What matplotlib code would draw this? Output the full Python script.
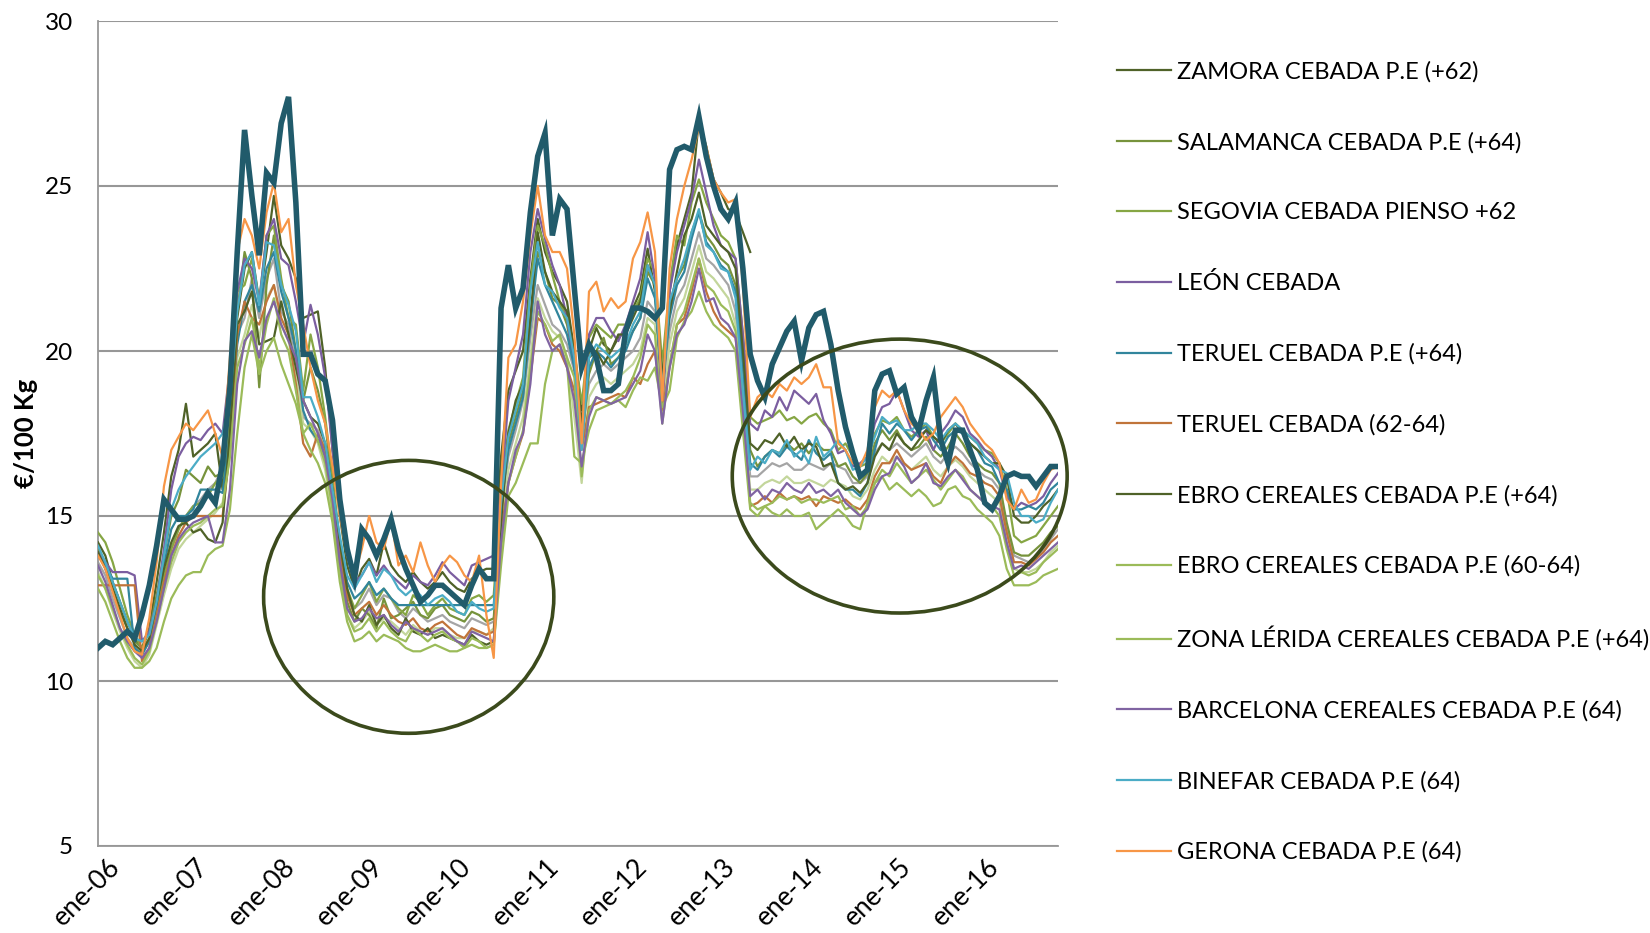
import numpy as np
import matplotlib
matplotlib.use("Agg")
import matplotlib.pyplot as plt
from matplotlib.patches import Ellipse
from matplotlib.transforms import ScaledTranslation

plt.rcParams['font.family'] = ['Lato', 'DejaVu Sans']

nan = np.nan
# ---------------- DATA (monthly, ene-06 .. dic-16) ----------------
tick_labels = ['ene-06', 'ene-07', 'ene-08', 'ene-09', 'ene-10', 'ene-11',
               'ene-12', 'ene-13', 'ene-14', 'ene-15', 'ene-16']

zamora = [14.2, 13.8, 13.0, 12.4, 11.8, 11.3, 11.0, 11.6, 13.0, 14.5, 16.2, 17.0,
          18.4, 16.8, 17.0, 17.2, 17.5, 15.8, 18.5, 21.0, 22.5, 23.0, 21.5, 23.0,
          24.7, 23.2, 22.8, 22.2, 21.0, 21.1, 21.2, 19.5, 17.0, 15.0, 13.5, 12.8,
          13.4, 13.7, 13.2, 14.2, 13.5, 13.2, 13.0, 13.3, 13.0, 12.8, 13.0, 13.3,
          13.0, 12.8, 12.7, 13.1, 13.3, 13.4, 13.4, 16.8, 18.8, 19.4, 20.0, 22.2,
          24.0, 23.0, 22.4, 22.0, 21.5, 20.0, 18.2, 20.0, 20.7, 20.2, 20.0, 20.4,
          20.6, 21.3, 21.8, 23.1, 21.8, 18.6, 21.8, 23.2, 24.0, 24.8, 27.0, 26.2,
          25.2, 24.8, 24.3, 24.2, 23.6, 23.0, nan, nan, nan, nan, nan, nan,
          nan, nan, nan, nan, nan, nan, nan, nan, nan, nan, nan, nan,
          nan, nan, nan, nan, nan, nan, nan, nan, nan, nan, nan, nan,
          nan, nan, nan, nan, nan, nan, nan, nan, nan, nan, nan, nan]

salamanca = [14.0, 13.5, 12.8, 12.1, 11.6, 11.2, 11.0, 11.5, 12.6, 13.8, 15.0, 15.5,
             16.4, 16.2, 16.0, 16.5, 16.2, 16.3, 18.6, 21.2, 23.0, 22.2, 18.9, 22.0,
             23.5, 22.0, 21.5, 20.0, 18.5, 19.5, 18.8, 17.8, 16.0, 14.0, 12.4, 11.8,
             12.2, 12.0, 11.6, 12.5, 11.9, 12.0, 12.2, 12.4, 12.0, 11.9, 12.2, 12.3,
             12.0, 11.9, 11.8, 12.1, 12.0, 11.8, 11.9, 15.2, 17.2, 18.0, 18.8, 21.0,
             23.0, 22.4, 21.6, 21.4, 20.8, 19.6, 17.2, 19.3, 20.0, 20.4, 19.6, 19.8,
             20.2, 20.6, 21.0, 22.4, 22.0, 18.8, 21.2, 22.2, 22.6, 23.6, 24.2, 23.5,
             23.2, 22.8, 22.6, 22.0, 19.5, 17.0, 16.5, 16.8, 17.0, 16.9, 17.2, 17.0,
             17.2, 16.9, 17.2, 17.0, 17.0, 16.5, 16.6, 16.2, 16.0, 16.3, 17.2, 17.6,
             17.3, 17.6, 17.2, 17.0, 17.1, 17.4, 17.0, 16.8, 17.1, 17.5, 17.2, 16.8,
             16.6, 16.4, 16.3, 16.0, 14.8, 13.9, 13.8, 13.8, 14.0, 14.2, 14.5, 14.7]

segovia = [14.5, 14.2, 13.6, 12.8, 12.0, 11.4, 11.0, 11.2, 12.2, 13.2, 14.0, 14.6,
           15.0, 15.3, 15.4, 15.6, 16.0, 16.2, 18.0, 21.8, 22.0, 22.8, 21.5, 23.5,
           23.8, 22.2, 21.0, 20.8, 18.8, 20.5, 19.5, 18.0, 16.2, 14.2, 12.8, 12.2,
           12.6, 13.0, 12.4, 12.8, 12.5, 12.2, 12.0, 12.6, 12.4, 12.0, 12.3, 12.5,
           12.2, 12.1, 12.0, 12.5, 12.6, 12.4, 12.6, 15.8, 17.6, 18.4, 19.2, 22.0,
           23.8, 23.2, 22.3, 21.5, 21.0, 20.0, 18.4, 20.4, 20.8, 20.6, 20.4, 20.8,
           20.8, 21.2, 21.6, 22.8, 22.4, 19.6, 22.0, 23.5, 23.2, 24.5, 25.2, 24.5,
           24.0, 23.5, 23.3, 22.8, 20.5, 18.0, 17.8, 17.9, 18.0, 18.2, 17.9, 18.0,
           17.8, 18.0, 18.1, 17.8, 17.6, 17.0, 17.2, 16.8, 16.5, 16.6, 17.5, 17.9,
           17.8, 18.0, 17.6, 17.4, 17.6, 17.8, 17.4, 17.2, 17.5, 17.8, 17.6, 17.4,
           17.2, 17.0, 16.9, 16.6, 15.8, 14.4, 14.2, 14.3, 14.4, 14.7, 15.0, 15.3]

leon = [13.9, 13.6, 13.3, 13.3, 13.3, 13.2, 11.2, 11.5, 12.4, 14.0, 15.8, 16.8,
        17.2, 17.4, 17.3, 17.6, 17.8, 17.5, 19.5, 21.8, 22.8, 22.5, 21.5, 23.5,
        24.0, 22.8, 22.6, 21.5, 20.2, 21.4, 20.5, 19.2, 17.0, 15.2, 13.8, 13.0,
        13.2, 13.6, 13.2, 13.5, 13.2, 13.0, 12.8, 13.2, 13.0, 12.9, 13.2, 13.6,
        13.3, 13.1, 12.9, 13.5, 13.6, 13.7, 13.8, 15.8, 18.5, 19.5, 20.5, 23.0,
        24.3, 23.4, 22.6, 22.0, 21.0, 19.5, 17.6, 20.5, 21.0, 21.0, 20.6, 20.3,
        20.8, 21.5, 22.2, 23.6, 22.2, 18.3, 21.8, 23.0, 23.8, 24.6, 25.8, 24.8,
        23.8, 23.2, 23.0, 22.8, 20.5, 17.8, 17.6, 18.2, 18.0, 18.6, 18.2, 18.8,
        18.6, 18.4, 18.7, 17.9, 17.5, 16.9, 17.0, 16.5, 16.6, 16.8, 17.8, 18.3,
        18.4, 18.8, 18.2, 17.6, 17.4, 17.6, 17.0, 17.5, 17.8, 18.2, 18.0, 17.5,
        17.3, 17.0, 16.8, 16.4, 15.6, 15.2, 15.4, 15.3, 15.4, 15.6, 16.0, 16.3]

teruel_pe = [13.8, 13.5, 13.1, 13.1, 13.1, 11.0, 10.8, 11.2, 12.3, 13.5, 14.6, 15.0,
             15.0, 15.2, 15.8, 15.8, 15.8, 15.7, 17.5, 20.2, 21.5, 22.0, 21.2, 22.5,
             23.0, 21.8, 21.0, 20.0, 18.2, 17.6, 17.3, 16.8, 15.6, 14.2, 13.0, 12.5,
             12.7, 13.0, 12.6, 12.8, 12.5, 12.3, 12.3, 12.3, 12.3, 12.3, 12.3, 12.3,
             12.3, 12.3, 12.3, 12.3, 12.3, 12.3, 12.3, 15.3, 17.0, 17.8, 18.6, 20.8,
             22.8, 22.0, 21.5, 21.0, 20.5, 19.5, 17.6, 19.5, 20.0, 19.8, 19.5, 19.8,
             20.0, 20.6, 21.0, 22.2, 21.6, 19.0, 21.0, 22.0, 22.4, 23.4, 24.2, 23.3,
             23.0, 22.6, 22.4, 21.8, 19.6, 16.6, 16.4, 16.8, 17.0, 16.8, 17.1, 16.9,
             16.7, 17.3, 16.9, 16.7, 16.9, 16.0, 15.8, 15.8, 15.6, 16.0, 17.0, 17.8,
             17.5, 17.8, 17.6, 17.3, 17.6, 17.7, 17.3, 17.0, 17.4, 17.6, 17.5, 17.2,
             17.0, 16.6, 16.5, 16.0, 15.8, 15.2, 15.2, 15.3, 15.2, 15.4, 15.8, 16.0]

teruel_6264 = [12.9, 12.9, 12.9, 12.9, 12.9, 12.9, 10.6, 11.0, 12.0, 13.0, 13.8, 14.4,
               14.8, 15.0, 15.0, 15.0, 15.0, 15.0, 17.0, 20.5, 21.5, 21.0, 20.8, 21.5,
               22.0, 21.0, 20.5, 19.0, 17.2, 16.8, 17.5, 17.0, 15.8, 14.0, 12.6, 12.0,
               12.2, 12.4, 12.0, 12.3, 12.0, 11.8, 11.7, 11.9, 11.6, 11.5, 11.7, 11.8,
               11.6, 11.4, 11.3, 11.6, 11.5, 11.4, 11.5, 14.5, 16.0, 16.8, 17.5, 19.2,
               21.0, 20.8, 20.2, 20.0, 19.5, 18.8, 17.0, 18.3, 18.4, 18.5, 18.6, 18.7,
               18.6, 19.2, 19.0, 19.6, 20.0, 18.2, 19.5, 20.8, 21.0, 21.8, 22.8, 21.8,
               21.2, 20.8, 20.6, 20.4, 18.5, 15.3, 15.4, 15.6, 15.4, 15.7, 15.5, 15.6,
               15.5, 15.6, 15.3, 15.6, 15.5, 15.4, 15.5, 15.3, 15.2, 15.5, 16.2, 16.6,
               16.6, 17.0, 16.6, 16.4, 16.5, 16.6, 16.2, 16.0, 16.5, 16.8, 16.6, 16.3,
               16.2, 16.0, 15.9, 15.6, 14.5, 13.6, 13.6, 13.5, 13.7, 13.9, 14.2, 14.4]

ebro_64 = [13.9, 13.4, 12.8, 12.2, 11.6, 11.1, 10.9, 11.3, 12.4, 13.4, 14.2, 14.7,
           14.8, 14.5, 14.6, 14.3, 14.2, 14.8, 17.5, 20.8, 21.2, 21.8, 20.2, 20.3,
           20.4, 21.5, 20.5, 19.5, 18.5, 18.0, 17.8, 17.2, 15.8, 14.2, 12.8, 12.0,
           11.8, 12.3, 11.7, 12.0, 11.6, 11.4, 11.9, 11.5, 11.4, 11.6, 11.3, 11.4,
           11.3, 11.2, 11.1, 11.4, 11.2, 11.1, 11.2, 14.8, 17.5, 18.5, 19.0, 21.0,
           23.6, 22.4, 21.8, 21.5, 21.2, 20.0, 17.8, 19.8, 20.0, 19.6, 20.0, 20.5,
           20.5, 21.0, 21.5, 22.6, 22.0, 19.2, 21.2, 22.4, 23.5, 24.0, 24.8, 23.8,
           23.5, 23.2, 23.0, 22.5, 20.0, 17.2, 17.0, 17.3, 17.2, 17.5, 17.1, 17.4,
           17.0, 17.2, 17.1, 16.5, 16.6, 16.0, 15.8, 15.9, 15.7, 16.0, 16.8, 17.2,
           17.0, 17.5, 17.2, 17.0, 17.3, 17.6, 17.4, 17.2, 17.6, 17.8, 17.5, 17.2,
           17.0, 16.8, 16.6, 16.6, 16.2, 15.0, 14.8, 14.8, 15.0, 15.3, 15.5, 15.8]

ebro_6064 = [13.2, 12.8, 12.2, 11.6, 11.1, 10.7, 10.5, 10.9, 11.8, 12.8, 13.6, 14.2,
             14.5, 14.7, 14.8, 15.0, 15.2, 15.3, 16.8, 19.5, 20.2, 21.0, 19.5, 20.8,
             21.6, 20.5, 20.0, 18.8, 17.5, 17.8, 17.3, 16.6, 15.2, 13.4, 12.0, 11.5,
             11.6, 11.9, 11.5, 11.8, 11.5, 11.3, 11.2, 11.6, 11.4, 11.2, 11.4, 11.5,
             11.3, 11.2, 11.0, 11.3, 11.2, 11.0, 11.1, 14.0, 16.0, 16.8, 17.6, 19.5,
             21.2, 20.8, 20.3, 20.5, 19.8, 19.2, 16.2, 18.2, 18.6, 18.5, 18.4, 18.6,
             18.8, 19.2, 19.8, 20.8, 20.5, 17.8, 19.6, 20.8, 21.2, 22.0, 22.8, 22.0,
             21.8, 21.4, 21.2, 20.6, 18.2, 15.4, 15.2, 15.3, 15.4, 15.6, 15.5, 15.6,
             15.4, 15.5, 15.5, 15.4, 15.5, 15.6, 15.2, 15.3, 15.0, 15.3, 16.0, 16.4,
             16.2, 16.6, 16.3, 16.0, 16.2, 16.4, 16.1, 15.8, 16.1, 16.4, 16.2, 15.8,
             15.6, 15.4, 15.3, 15.0, 14.0, 13.2, 13.3, 13.2, 13.3, 13.6, 13.8, 14.0]

lerida = [12.8, 12.4, 11.8, 11.2, 10.7, 10.4, 10.4, 10.6, 11.0, 11.8, 12.5, 12.9,
          13.2, 13.3, 13.3, 13.8, 14.0, 14.1, 15.2, 17.5, 19.5, 20.5, 19.3, 20.0,
          20.4, 19.6, 19.0, 18.4, 17.5, 17.0, 16.6, 16.0, 14.8, 13.0, 11.8, 11.2,
          11.3, 11.5, 11.2, 11.4, 11.3, 11.2, 11.0, 10.9, 10.9, 11.0, 11.1, 11.0,
          10.9, 10.9, 11.0, 11.1, 11.0, 11.0, 11.1, 13.5, 15.6, 16.0, 16.6, 17.2,
          17.2, 19.0, 20.0, 20.2, 19.6, 16.8, 16.6, 17.6, 18.2, 18.3, 18.4, 18.5,
          18.3, 18.8, 19.2, 19.1, 19.5, 18.3, 18.8, 20.4, 20.9, 21.2, 21.8, 21.2,
          20.8, 20.6, 20.4, 20.0, 17.6, 15.2, 15.0, 15.3, 15.1, 15.0, 15.2, 15.0,
          15.0, 15.1, 14.6, 14.8, 15.0, 15.2, 15.0, 14.7, 14.6, 15.4, 16.0, 16.2,
          15.8, 16.0, 15.8, 15.6, 15.8, 15.6, 15.3, 15.4, 15.8, 15.9, 15.6, 15.5,
          15.2, 15.0, 14.8, 14.4, 13.4, 12.9, 12.9, 12.9, 13.0, 13.2, 13.3, 13.4]

barcelona = [13.5, 13.0, 12.3, 11.6, 11.2, 10.9, 10.7, 11.0, 11.8, 12.8, 13.8, 14.3,
             14.6, 14.8, 14.9, 15.0, 14.2, 14.2, 15.8, 19.0, 20.3, 20.6, 19.8, 21.0,
             21.5, 20.8, 20.3, 19.8, 18.5, 18.0, 17.5, 16.8, 15.5, 13.6, 12.2, 11.8,
             11.9, 12.2, 11.9, 12.0, 11.7, 11.5, 11.8, 11.6, 11.5, 11.4, 11.5, 11.6,
             11.4, 11.2, 11.1, 11.5, 11.4, 11.3, 11.2, 14.2, 16.0, 17.0, 17.5, 19.0,
             21.5, 20.5, 20.0, 20.2, 19.5, 18.5, 16.5, 18.0, 18.6, 18.5, 18.4, 18.5,
             18.6, 19.0, 19.4, 20.5, 20.0, 17.8, 19.5, 20.5, 20.8, 21.5, 22.5, 21.5,
             21.6, 21.0, 20.8, 20.4, 18.2, 15.6, 15.8, 15.5, 15.8, 15.7, 16.0, 15.8,
             15.7, 16.0, 15.7, 15.8, 15.6, 15.8, 15.4, 15.2, 15.0, 15.2, 15.8, 16.2,
             16.3, 16.8, 16.5, 16.0, 16.2, 16.6, 16.0, 15.9, 16.2, 16.4, 16.1, 15.8,
             15.6, 15.4, 15.3, 15.2, 14.2, 13.4, 13.5, 13.4, 13.6, 13.8, 14.0, 14.2]

binefar = [14.1, 13.6, 13.0, 12.4, 11.8, 11.3, 11.2, 11.4, 12.4, 13.8, 15.2, 15.8,
           16.2, 16.5, 16.8, 17.0, 17.2, 17.5, 18.5, 21.2, 22.6, 23.0, 21.4, 23.3,
           23.2, 22.0, 21.4, 20.6, 18.6, 18.6, 18.0, 17.2, 15.8, 14.4, 13.2, 12.8,
           13.2, 13.6, 13.0, 13.4, 13.2, 12.8, 12.6, 12.8, 12.6, 12.3, 12.5, 12.6,
           12.4, 12.1, 12.0, 12.4, 12.2, 12.1, 12.2, 15.4, 17.4, 18.2, 19.0, 21.8,
           23.3, 22.0, 21.8, 21.3, 21.0, 19.8, 17.0, 19.8, 20.2, 20.0, 19.8, 20.0,
           20.2, 20.8, 21.2, 22.6, 22.0, 18.8, 21.5, 22.2, 22.8, 23.6, 24.3, 23.2,
           23.0, 22.5, 22.4, 21.6, 18.8, 16.4, 16.8, 16.6, 17.0, 16.9, 17.3, 16.8,
           17.0, 16.6, 17.4, 16.8, 17.0, 17.3, 17.0, 16.4, 16.5, 16.8, 17.4, 18.0,
           17.8, 17.9, 17.6, 17.6, 17.8, 17.8, 17.6, 17.3, 17.6, 17.8, 17.6, 17.4,
           17.2, 16.8, 16.6, 16.4, 16.3, 15.4, 15.0, 15.0, 14.8, 14.9, 15.4, 15.8]

gerona = [13.8, 13.4, 12.7, 12.0, 11.3, 10.9, 10.8, 11.9, 13.6, 15.9, 17.0, 17.4,
          17.8, 17.6, 17.9, 18.2, 17.5, 16.8, 19.8, 23.0, 24.0, 23.5, 22.5, 24.2,
          25.1, 23.6, 24.0, 22.0, 20.8, 19.5, 18.5, 17.8, 16.5, 15.0, 13.8, 13.2,
          14.0, 15.0, 14.2, 14.0, 14.9, 13.5, 13.8, 13.3, 14.2, 13.5, 13.0, 13.5,
          13.8, 13.6, 13.2, 13.0, 13.8, 12.0, 10.7, 16.0, 19.8, 20.2, 21.5, 23.5,
          25.0, 23.5, 23.0, 23.0, 22.5, 20.5, 17.2, 21.8, 22.1, 21.2, 21.6, 21.3,
          21.5, 22.8, 23.3, 24.2, 23.0, 18.5, 22.5, 24.0, 25.0, 25.8, 26.8, 26.2,
          25.2, 24.8, 24.5, 24.6, 22.0, 18.0, 18.6, 18.8, 18.6, 19.0, 18.8, 19.2,
          19.0, 19.2, 19.6, 18.9, 18.9, 17.2, 17.0, 16.6, 16.5, 17.0, 18.3, 18.8,
          18.6, 18.8, 18.2, 17.8, 17.6, 17.3, 17.5, 18.0, 18.3, 18.6, 18.3, 17.8,
          17.5, 17.2, 17.0, 16.6, 15.5, 15.2, 15.8, 15.4, 15.5, 16.0, 16.4, 16.5]

# other markets shown in the chart but not listed in the legend
extra_grey = [13.6, 13.2, 12.5, 11.9, 11.3, 11.0, 10.8, 11.2, 12.0, 13.0, 14.0, 14.6,
              15.0, 15.3, 15.5, 15.8, 16.0, 16.5, 17.5, 20.5, 21.0, 22.2, 21.0, 22.2,
              22.8, 21.2, 20.8, 19.6, 18.0, 17.8, 17.6, 17.0, 15.6, 14.0, 12.6, 12.2,
              12.4, 12.8, 12.3, 12.6, 12.5, 12.1, 11.9, 12.2, 12.0, 11.8, 11.9, 12.0,
              11.8, 11.7, 11.6, 11.9, 11.8, 11.7, 11.8, 15.0, 16.8, 17.6, 18.5, 20.4,
              22.0, 21.4, 20.8, 20.6, 20.2, 19.4, 17.4, 19.0, 19.4, 19.6, 19.4, 19.6,
              19.8, 20.0, 20.4, 21.5, 21.2, 18.6, 20.6, 21.6, 22.0, 22.8, 23.6, 22.8,
              22.6, 22.3, 22.0, 21.2, 18.6, 16.2, 16.2, 16.4, 16.6, 16.5, 16.6, 16.4,
              16.4, 16.6, 16.5, 16.4, 16.6, 16.5, 16.4, 16.0, 16.0, 16.2, 16.9, 17.2,
              17.0, 17.2, 17.0, 16.8, 17.0, 17.2, 16.8, 16.6, 16.9, 17.1, 16.9, 16.6,
              16.4, 16.2, 16.1, 15.8, 14.6, 13.8, 13.7, 13.6, 13.7, 14.0, 14.3, 14.6]

extra_pale = [13.3, 12.8, 12.1, 11.5, 11.0, 10.6, 10.4, 10.8, 11.7, 12.6, 13.4, 14.0,
              14.3, 14.5, 14.7, 14.9, 15.1, 15.4, 16.8, 19.8, 20.5, 21.4, 20.4, 21.6,
              22.0, 20.8, 20.3, 19.2, 17.8, 17.6, 17.2, 16.4, 15.0, 13.4, 12.0, 11.6,
              11.8, 12.1, 11.7, 11.9, 11.8, 11.6, 11.4, 11.7, 11.5, 11.4, 11.6, 11.6,
              11.4, 11.3, 11.3, 11.5, 11.5, 11.4, 11.6, 14.6, 16.4, 17.2, 18.0, 19.8,
              21.6, 21.0, 20.6, 20.4, 19.8, 18.0, 16.0, 18.6, 19.0, 19.2, 19.0, 19.2,
              19.4, 19.6, 20.0, 21.0, 20.8, 18.2, 20.2, 21.2, 21.6, 22.4, 23.2, 22.4,
              22.2, 21.9, 21.6, 20.8, 18.4, 15.8, 15.8, 16.0, 16.1, 16.0, 16.2, 16.0,
              16.0, 16.1, 16.0, 15.9, 16.1, 16.0, 15.9, 15.6, 15.5, 15.8, 16.4, 16.8,
              16.6, 16.8, 16.6, 16.4, 16.6, 16.8, 16.4, 16.2, 16.5, 16.7, 16.5, 16.2,
              16.0, 15.8, 15.6, 15.4, 14.2, 13.4, 13.3, 13.3, 13.4, 13.6, 13.9, 14.1]

# highlighted (thick) series
highlight = [11.0, 11.2, 11.1, 11.3, 11.5, 11.3, 12.0, 12.9, 14.1, 15.5, 15.2, 14.9,
             14.9, 15.0, 15.3, 15.7, 15.4, 16.6, 18.9, 23.0, 26.7, 24.7, 22.9, 25.4,
             25.1, 26.9, 27.7, 24.5, 19.9, 19.9, 19.3, 19.1, 17.9, 15.5, 14.0, 13.1,
             14.6, 14.3, 13.8, 14.3, 14.9, 14.0, 13.4, 12.9, 12.4, 12.6, 12.9, 12.9,
             12.7, 12.5, 12.3, 12.9, 13.4, 13.1, 13.1, 21.3, 22.6, 21.3, 21.9, 24.2,
             25.9, 26.6, 23.5, 24.6, 24.3, 21.9, 19.5, 20.2, 19.8, 18.8, 18.8, 19.0,
             20.6, 21.3, 21.3, 21.2, 21.0, 21.3, 25.5, 26.1, 26.2, 26.1, 27.1, 25.9,
             25.0, 24.3, 24.0, 24.5, 22.5, 19.9, 19.1, 18.6, 19.6, 20.1, 20.6, 20.9,
             19.7, 20.7, 21.1, 21.2, 20.2, 18.8, 17.7, 16.9, 16.2, 16.4, 18.8, 19.3,
             19.4, 18.7, 18.9, 18.0, 17.6, 18.5, 19.2, 17.3, 16.6, 17.6, 17.6, 17.0,
             16.4, 15.4, 15.2, 15.6, 16.2, 16.3, 16.2, 16.2, 15.9, 16.2, 16.5, 16.5]

legend_series = [
    ("ZAMORA CEBADA P.E (+62)", zamora, '#4F6228'),
    ("SALAMANCA CEBADA P.E (+64)", salamanca, '#77933C'),
    ("SEGOVIA CEBADA PIENSO +62", segovia, '#86A644'),
    ("LEÓN CEBADA", leon, '#7B5EA0'),
    ("TERUEL CEBADA P.E (+64)", teruel_pe, '#31859C'),
    ("TERUEL CEBADA (62-64)", teruel_6264, '#C0743A'),
    ("EBRO CEREALES CEBADA P.E (+64)", ebro_64, '#4F6228'),
    ("EBRO CEREALES CEBADA P.E (60-64)", ebro_6064, '#9BBB59'),
    ("ZONA LÉRIDA CEREALES CEBADA P.E (+64)", lerida, '#9BBB59'),
    ("BARCELONA CEREALES CEBADA P.E (64)", barcelona, '#8064A2'),
    ("BINEFAR CEBADA P.E (64)", binefar, '#4BACC6'),
    ("GERONA CEBADA P.E (64)", gerona, '#F79646'),
]

# ---------------- FIGURE ----------------
fig = plt.figure(figsize=(16.5, 9.33), dpi=100)
ax = fig.add_axes([98/1650, 1-846/933, 960/1650, 825/933])

x = np.arange(len(highlight))

ax.plot(x, extra_grey, color='#A5A5A5', lw=1.6, zorder=2)
ax.plot(x, extra_pale, color='#C3D69B', lw=1.6, zorder=2)

handles = []
for name, vals, col in legend_series:
    ln, = ax.plot(x, vals, color=col, lw=1.6, zorder=3, label=name)
    handles.append(ln)

ax.plot(x, highlight, color='#215B6B', lw=4.0, zorder=5, solid_joinstyle='miter')

# ellipses
for cx, cy, w, h in [(42.4, 12.55, 39.6, 8.27), (109.4, 16.21, 45.7, 8.3)]:
    e = Ellipse((cx, cy), w, h, fill=False, edgecolor='#3B4A1C', lw=2.6,
                zorder=6, clip_on=False)
    ax.add_patch(e)

ax.set_xlim(0, len(highlight) - 1)
ax.set_ylim(5, 30)
ax.set_yticks([5, 10, 15, 20, 25, 30])
ax.set_xticks(np.arange(0, 121, 12))
ax.set_xticklabels(tick_labels, rotation=45, ha='right', va='top',
                   rotation_mode='anchor')
ax.tick_params(axis='y', length=0, labelsize=17.5, pad=18, colors='#000000')
ax.tick_params(axis='x', length=0, labelsize=19, pad=6, colors='#000000')
shift = ScaledTranslation(9/100, 0, fig.dpi_scale_trans)
for lab in ax.get_xticklabels():
    lab.set_transform(lab.get_transform() + shift)
ax.grid(axis='y', color='#979797', lw=1.5)
ax.set_axisbelow(True)
for s in ['top', 'right']:
    ax.spines[s].set_visible(False)
ax.spines['left'].set_color('#979797')
ax.spines['bottom'].set_color('#979797')
ax.spines['left'].set_linewidth(1.3)
ax.spines['bottom'].set_linewidth(1.3)

ax.set_ylabel('€/100 Kg', fontsize=18.5, fontweight='bold')
ax.yaxis.set_label_coords(-0.062, 0.5)

fig.legend(handles=handles, loc='upper left', bbox_to_anchor=(1117/1650, 1-61/933),
           frameon=False, fontsize=17, handlelength=2.3, handletextpad=0.25,
           labelspacing=2.08, borderpad=0, borderaxespad=0)

fig.savefig('out.png', dpi=100, facecolor='white')
